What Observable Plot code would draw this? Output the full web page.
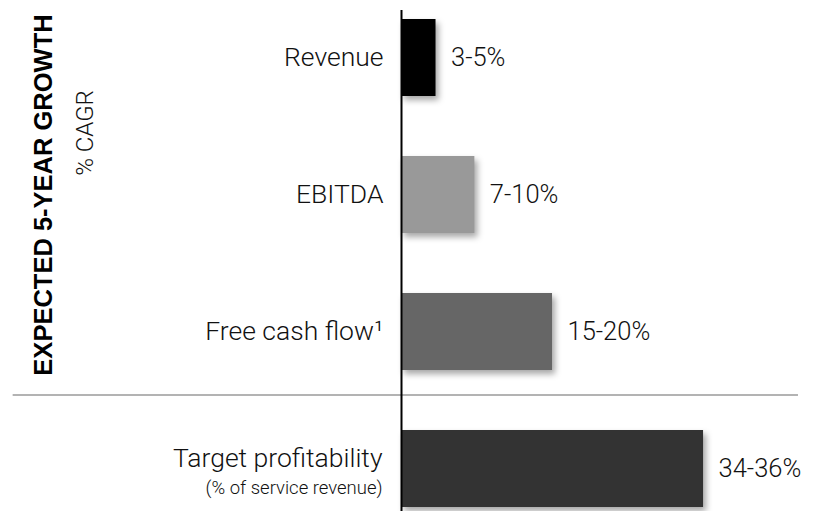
<!DOCTYPE html>
<html>
<head>
<meta charset="utf-8">
<script src="https://cdn.jsdelivr.net/npm/d3@7"></script>
<script src="https://cdn.jsdelivr.net/npm/@observablehq/plot@0.6"></script>
<style>
  html, body { margin: 0; padding: 0; background: #fff; }
  #chart svg { display: block; }
</style>
</head>
<body>
<div id="chart"></div>
<script>
// Data
const categories = ["Revenue", "EBITDA", "Free cash flow¹", "Target profitability"];
const barValues = [4, 8.5, 17.5, 35];            // bar lengths (range midpoints, % )
const rangeLabels = ["3-5%", "7-10%", "15-20%", "34-36%"];
const barColors = ["#000000", "#999999", "#666666", "#333333"];
const title = "EXPECTED 5-YEAR GROWTH";
const subtitle = "% CAGR";
const targetNote = "(% of service revenue)";

const rows = categories.map((c, i) => ({cat: c, value: barValues[i], label: rangeLabels[i], color: barColors[i]}));
const growthRows = rows.slice(0, 3);
const targetRow = rows.slice(3);

const FONT = "Roboto, 'Liberation Sans', sans-serif";

const chart = Plot.plot({
  width: 813,
  height: 511,
  marginTop: 10,
  marginBottom: 0,
  marginLeft: 0,
  marginRight: 0,
  style: {fontFamily: FONT, background: "#fff", overflow: "visible"},
  x: {domain: [0, 40], range: [401, 746.2], axis: null},
  y: {domain: categories, range: [17, 508], paddingInner: 0.44, paddingOuter: 0, axis: null},
  marks: [
    // divider line between growth metrics and target profitability
    Plot.ruleY(targetRow, {y: "cat", dy: -74, x1: -45, x2: 46, stroke: "#b3b3b3", strokeWidth: 2}),
    Plot.barX(rows, {y: "cat", x: "value", fill: "color"}),
    Plot.ruleX([0], {stroke: "#000", strokeWidth: 2}),
    // category labels
    Plot.text(growthRows, {y: "cat", x: 0, text: "cat", textAnchor: "end", dx: -18, fontSize: 26.5, fontWeight: 300, fill: "#111"}),
    Plot.text(targetRow, {y: "cat", x: 0, text: "cat", textAnchor: "end", dx: -19, dy: -10, fontSize: 26.5, fontWeight: 300, fill: "#111"}),
    Plot.text(targetRow, {y: "cat", x: 0, text: () => targetNote, textAnchor: "end", dx: -19, dy: 19, fontSize: 18.5, fontWeight: 300, fill: "#111"}),
    // range labels
    Plot.text(rows, {y: "cat", x: "value", text: "label", textAnchor: "start", dx: 15, fontSize: 25.5, fontWeight: 300, fill: "#111"}),
    // rotated side titles
    Plot.text([title], {frameAnchor: "left", textAnchor: "middle", rotate: -90, dx: 43, dy: -66, fontSize: 25.5, fontWeight: "bold", fontFamily: "'Liberation Sans', Arial, sans-serif", fill: "#000"}),
    Plot.text([subtitle], {frameAnchor: "left", textAnchor: "middle", rotate: -90, dx: 85, dy: -128, fontSize: 24, fontWeight: 300, fill: "#111"})
  ]
});

// soft drop shadow on bars
chart.querySelectorAll('g[aria-label="bar"]').forEach(g => {
  g.style.filter = "drop-shadow(3px 4px 3px rgba(0,0,0,0.35))";
});

document.getElementById("chart").appendChild(chart);
</script>
</body>
</html>
